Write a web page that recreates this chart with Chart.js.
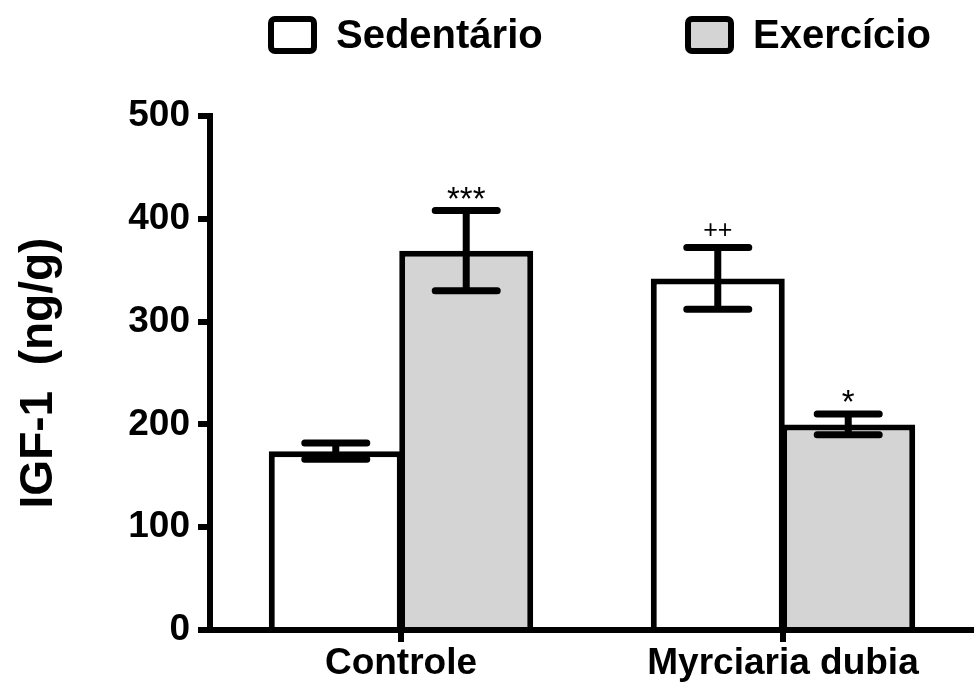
<!DOCTYPE html>
<html>
<head>
<meta charset="utf-8">
<script src="https://cdn.jsdelivr.net/npm/chart.js@4/dist/chart.umd.min.js"></script>
<style>
  html, body { margin: 0; padding: 0; background: #ffffff; }
  #wrap { width: 974px; height: 689px; position: relative; }
</style>
</head>
<body>
<div id="wrap"><canvas id="c" width="974" height="689"></canvas></div>
<script>
// Groups on the x axis
const categories = ['Controle', 'Myrciaria dubia'];
// Series names
const seriesNames = ['Sedentário', 'Exercício'];
// Mean IGF-1 (ng/g) per group
const sedentarioMean = [174, 342];
const exercicioMean = [369, 200];
// Standard error of the mean
const sedentarioSem = [8, 30];
const exercicioSem = [39, 10];
// Significance marks above the error bars
const sedentarioMarks = ['', '++'];
const exercicioMarks = ['***', '*'];
// Y axis ticks
const yTicks = [0, 100, 200, 300, 400, 500];

const FONT = "'Liberation Sans', Arial, Helvetica, sans-serif";

const errorSets = [sedentarioSem, exercicioSem];
const markSets = [sedentarioMarks, exercicioMarks];

// Error bars with caps plus the significance marks
const errorBarPlugin = {
  id: 'errorBars',
  afterDatasetsDraw(chart) {
    const ctx = chart.ctx;
    const yScale = chart.scales.y;
    chart.data.datasets.forEach((ds, di) => {
      const meta = chart.getDatasetMeta(di);
      meta.data.forEach((bar, i) => {
        const mean = ds.data[i];
        const err = errorSets[di][i];
        const x = bar.x;
        const yTop = yScale.getPixelForValue(mean + err);
        const yBot = yScale.getPixelForValue(mean - err);
        const half = 31;
        ctx.save();
        ctx.strokeStyle = '#000';
        ctx.lineWidth = 7;
        ctx.lineCap = 'round';
        ctx.beginPath();
        ctx.moveTo(x, yTop); ctx.lineTo(x, yBot);
        ctx.moveTo(x - half, yTop); ctx.lineTo(x + half, yTop);
        ctx.moveTo(x - half, yBot); ctx.lineTo(x + half, yBot);
        ctx.stroke();
        const mark = markSets[di][i];
        if (mark) {
          const plus = mark.indexOf('+') >= 0;
          ctx.fillStyle = '#000';
          ctx.font = (plus ? 25 : 33) + 'px ' + FONT;
          ctx.textAlign = 'center';
          ctx.textBaseline = 'alphabetic';
          ctx.fillText(mark, x, yTop - (plus ? 10 : 1));
        }
        ctx.restore();
      });
    });
  }
};

// Legend row drawn above the plot
const legendPlugin = {
  id: 'topLegend',
  afterDraw(chart, args, opts) {
    const ctx = chart.ctx;
    chart.data.datasets.forEach((ds, di) => {
      const bx = opts.itemX[di];
      const by = opts.boxTop;
      const bw = opts.boxW, bh = opts.boxH, lw = 6;
      ctx.save();
      ctx.beginPath();
      ctx.roundRect(bx + lw / 2, by + lw / 2, bw - lw, bh - lw, 4);
      ctx.fillStyle = ds.backgroundColor;
      ctx.fill();
      ctx.lineWidth = lw;
      ctx.strokeStyle = ds.borderColor;
      ctx.stroke();
      ctx.fillStyle = '#000';
      ctx.font = 'bold 40px ' + FONT;
      ctx.textAlign = 'left';
      ctx.textBaseline = 'middle';
      ctx.fillText(ds.label, bx + bw + 19, by + bh / 2 + 2);
      ctx.restore();
    });
  }
};

new Chart(document.getElementById('c'), {
  type: 'bar',
  data: {
    labels: categories,
    datasets: [
      {
        label: seriesNames[0],
        data: sedentarioMean,
        backgroundColor: '#ffffff',
        borderColor: '#000000',
        borderWidth: 6
      },
      {
        label: seriesNames[1],
        data: exercicioMean,
        backgroundColor: '#d4d4d4',
        borderColor: '#000000',
        borderWidth: 6
      }
    ]
  },
  options: {
    responsive: false,
    animation: false,
    devicePixelRatio: 1,
    categoryPercentage: 0.683,
    barPercentage: 1.027,
    layout: { padding: { top: 116, right: 0, left: 0, bottom: 0 } },
    plugins: {
      legend: { display: false },
      tooltip: { enabled: false },
      topLegend: { itemX: [268, 685], boxTop: 16, boxW: 49, boxH: 38 }
    },
    scales: {
      x: {
        z: 1,
        offset: true,
        grid: {
          display: true, drawOnChartArea: false, drawTicks: true,
          offset: false, tickLength: 12, lineWidth: 6, color: '#000'
        },
        border: { display: true, width: 6, color: '#000' },
        ticks: {
          color: '#000', padding: 0, maxRotation: 0,
          font: { family: FONT, size: 37, weight: 'bold' }
        },
        afterFit(scale) { scale.height = 59; }
      },
      y: {
        z: 1,
        min: 0,
        max: 500,
        afterBuildTicks(scale) { scale.ticks = yTicks.map(v => ({ value: v })); },
        grid: {
          display: true, drawOnChartArea: false, drawTicks: true,
          tickLength: 12, lineWidth: 6, color: '#000'
        },
        border: { display: true, width: 6, color: '#000' },
        ticks: {
          color: '#000', padding: 8,
          font: { family: FONT, size: 37, weight: 'bold' }
        },
        title: {
          display: true,
          text: 'IGF-1  (ng/g)',
          color: '#000',
          font: { family: FONT, size: 46, weight: 'bold' },
          padding: { top: 12, bottom: 4 }
        },
        afterFit(scale) { scale.width = 210; }
      }
    }
  },
  plugins: [errorBarPlugin, legendPlugin]
});
</script>
</body>
</html>
